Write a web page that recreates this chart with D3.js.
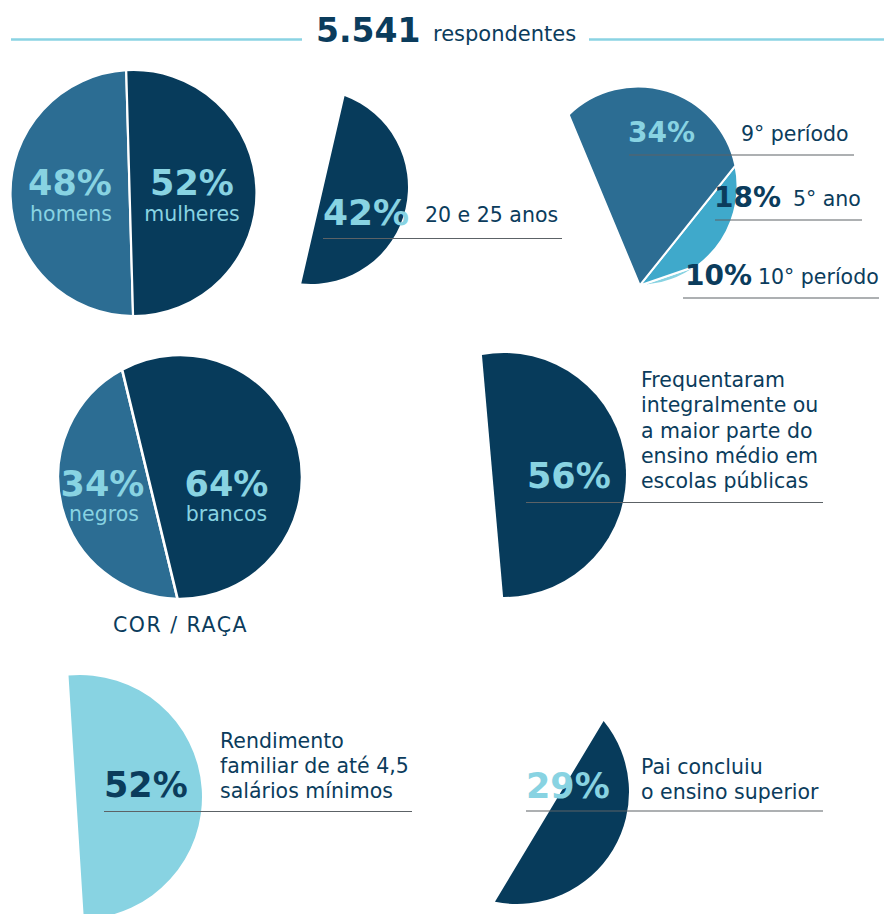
<!DOCTYPE html>
<html><head><meta charset="utf-8">
<script src="https://cdn.jsdelivr.net/npm/d3@7"></script>
<style>html,body{margin:0;padding:0;background:#fff;} svg{display:block;}</style>
</head><body>
<svg id="chart" width="884" height="914"></svg>
<script>
// ---------------- data ----------------
const totalRespondents = 5541;
const respondentsLabel = "respondentes";
const genderLabels = ["homens", "mulheres"];
const genderValues = [48, 52];
const raceLabels = ["negros", "brancos"];
const raceValues = [34, 64];
const raceTitle = "COR / RAÇA";
const ageValue = 42;
const ageLabel = ["20 e 25 anos"];
const periodLabels = ["10° período", "5° ano", "9° período"];
const periodValues = [10, 18, 34];
const schoolValue = 56;
const schoolLabel = ["Frequentaram", "integralmente ou", "a maior parte do", "ensino médio em", "escolas públicas"];
const incomeValue = 52;
const incomeLabel = ["Rendimento", "familiar de até 4,5", "salários mínimos"];
const fatherValue = 29;
const fatherLabel = ["Pai concluiu", "o ensino superior"];

// ---------------- style ----------------
const C = {
  navy: "#073b5b",
  mid: "#2c6d93",
  bright: "#3fa9cb",
  light: "#88d3e2",
  text: "#0b3c5c",
  rule: "#5c6266",
  header: "#8ad3e3"
};
const FONT = "'DejaVu Sans', sans-serif";
const svg = d3.select("#chart");
const deg = Math.PI / 180;

// percentage -> share of the full circle expressed in "angle units"
const pct = d3.scaleLinear().domain([0, 100]).range([0, 2 * Math.PI]);
const fmt = d3.formatLocale({decimal: ",", thousands: ".", grouping: [3], currency: ["R$", ""]}).format(",");

// central angle of a circular segment whose area is a given percentage of the circle
function segmentAngle(p) {
  const target = pct(p);
  let lo = 0, hi = 2 * Math.PI;
  for (let i = 0; i < 60; i++) {
    const m = (lo + hi) / 2;
    if (m - Math.sin(m) < target) lo = m; else hi = m;
  }
  return (lo + hi) / 2;
}
function pt(cx, cy, r, a) { return [cx + r * Math.sin(a), cy - r * Math.cos(a)]; }
function segmentPath(cx, cy, r, a0, a1) {
  const p = d3.path();
  const s = pt(cx, cy, r, a0);
  p.moveTo(s[0], s[1]);
  p.arc(cx, cy, r, a0 - Math.PI / 2, a1 - Math.PI / 2, false);
  p.closePath();
  return p.toString();
}
function fanPath(cx, cy, r, aP, aS, aE) {
  const p = d3.path();
  const P = pt(cx, cy, r, aP), S = pt(cx, cy, r, aS);
  p.moveTo(P[0], P[1]);
  p.lineTo(S[0], S[1]);
  p.arc(cx, cy, r, aS - Math.PI / 2, aE - Math.PI / 2, true);
  p.closePath();
  return p.toString();
}
function text(x, y, str, o) {
  o = o || {};
  return svg.append("text").attr("x", x).attr("y", y).text(str)
    .attr("font-family", FONT)
    .attr("font-size", o.size || 20.5)
    .attr("font-weight", o.bold ? 700 : 400)
    .attr("fill", o.fill || C.text)
    .attr("letter-spacing", o.ls || 0)
    .attr("text-anchor", o.anchor || "start");
}
function rule(x1, x2, y) {
  svg.append("line").attr("x1", x1).attr("x2", x2).attr("y1", y).attr("y2", y)
    .attr("stroke", C.rule).attr("stroke-width", 1.2);
}
function lines(x, y0, arr, step) {
  arr.forEach((s, i) => text(x, y0 + i * step, s));
}

// ---------------- header ----------------
svg.append("line").attr("x1", 11).attr("x2", 302).attr("y1", 39.5).attr("y2", 39.5)
  .attr("stroke", C.header).attr("stroke-width", 2.6);
svg.append("line").attr("x1", 589).attr("x2", 884).attr("y1", 39.5).attr("y2", 39.5)
  .attr("stroke", C.header).attr("stroke-width", 2.6);
text(316, 42, fmt(totalRespondents), {size: 33, bold: true, fill: C.text});
text(433, 41, respondentsLabel, {size: 21});

// ---------------- two-part circles (gender, race) ----------------
function splitCircle(cx, cy, r, dir, values, colors, gap) {
  const th = segmentAngle(values[0]);
  const a0 = dir - th / 2, a1 = dir + th / 2;
  svg.append("path").attr("d", segmentPath(cx, cy, r, a0, a1)).attr("fill", colors[0])
    .attr("stroke", "#fff").attr("stroke-width", gap).attr("stroke-linejoin", "round");
  svg.append("path").attr("d", segmentPath(cx, cy, r, a1, a0 + 2 * Math.PI)).attr("fill", colors[1])
    .attr("stroke", "#fff").attr("stroke-width", gap).attr("stroke-linejoin", "round");
}
splitCircle(133.5, 193, 123, 268.4 * deg, genderValues, [C.mid, C.navy], 2.2);
text(70, 195, genderValues[0] + "%", {size: 35, bold: true, fill: C.light, anchor: "middle"});
text(71, 221, genderLabels[0], {size: 20.5, fill: C.light, anchor: "middle"});
text(192, 195, genderValues[1] + "%", {size: 35, bold: true, fill: C.light, anchor: "middle"});
text(192, 221, genderLabels[1], {size: 20.5, fill: C.light, anchor: "middle"});

splitCircle(180, 477, 122, 256.4 * deg, raceValues, [C.mid, C.navy], 2.6);
text(102.5, 496, raceValues[0] + "%", {size: 35, bold: true, fill: C.light, anchor: "middle"});
text(104, 521, raceLabels[0], {size: 20.5, fill: C.light, anchor: "middle"});
text(226.5, 496, raceValues[1] + "%", {size: 35, bold: true, fill: C.light, anchor: "middle"});
text(226.5, 521, raceLabels[1], {size: 20.5, fill: C.light, anchor: "middle"});
text(180.5, 632, raceTitle, {size: 20.5, anchor: "middle", ls: 1.5});

// ---------------- single segments ----------------
function singleSegment(cx, cy, r, dir, value, color) {
  const th = segmentAngle(value);
  svg.append("path").attr("d", segmentPath(cx, cy, r, dir - th / 2, dir + th / 2)).attr("fill", color);
}
singleSegment(311, 187, 97, 103 * deg, ageValue, C.navy);
singleSegment(504, 475, 122, 85 * deg, schoolValue, C.navy);
singleSegment(80, 797, 122, 86.4 * deg, incomeValue, C.light);
singleSegment(517, 792, 112, 121 * deg, fatherValue, C.navy);

// ---------------- fan (período) ----------------
const fan = {cx: 638, cy: 186, r: 99.5, aP: 179 * deg};
const periodSum = d3.sum(periodValues);
const fanArcs = d3.pie().sort(null).value(d => d)
  .startAngle(fan.aP).endAngle(fan.aP - pct(periodSum))(periodValues);
const fanColors = [C.light, C.bright, C.mid];
fanArcs.forEach((a, i) => {
  svg.append("path").attr("d", fanPath(fan.cx, fan.cy, fan.r, fan.aP, a.startAngle, a.endAngle))
    .attr("fill", fanColors[i]).attr("stroke", "#fff").attr("stroke-width", 2).attr("stroke-linejoin", "round");
});

// ---------------- rules & labels ----------------
rule(629, 854, 155);
rule(715, 862, 220);
rule(683, 879, 298);
rule(323, 562, 238.5);
rule(526, 823, 502.5);
rule(104, 412, 811.5);
rule(526, 823, 811);

text(628, 142, periodValues[2] + "%", {size: 28, bold: true, fill: C.light});
text(741, 141, periodLabels[2]);
text(714, 207, periodValues[1] + "%", {size: 28, bold: true, fill: C.text});
text(793, 206, periodLabels[1]);
text(685, 285, periodValues[0] + "%", {size: 28, bold: true, fill: C.text});
text(758, 284, periodLabels[0]);

text(323, 225, ageValue + "%", {size: 36, bold: true, fill: C.light});
text(425, 222, ageLabel[0]);

text(527, 488, schoolValue + "%", {size: 35, bold: true, fill: C.light});
lines(641, 387, schoolLabel, 25.3);

text(104, 797, incomeValue + "%", {size: 35, bold: true, fill: C.text});
lines(220, 747.5, incomeLabel, 25.3);

text(526, 798, fatherValue + "%", {size: 35, bold: true, fill: C.light});
lines(641, 773.5, fatherLabel, 25);
</script>
</body></html>
